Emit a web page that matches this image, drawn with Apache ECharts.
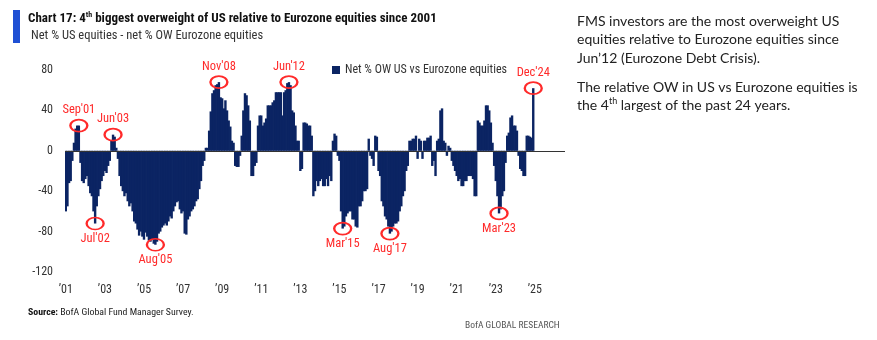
<!DOCTYPE html>
<html>
<head>
<meta charset="utf-8">
<script src="https://cdn.jsdelivr.net/npm/echarts@6/dist/echarts.min.js"></script>
<style>
html,body{margin:0;padding:0;background:#fff;}
#chart{width:877px;height:340px;}
</style>
</head>
<body>
<div id="chart"></div>
<script>
// ---- DATA ----
const startYear = 2001;
const axisMonths = 307; // Jan 2001 .. Jul 2026 (axis extent)
// Net % OW US minus net % OW Eurozone equities, monthly Jan 2001 .. Dec 2024
const netOW = [
  -60,-55,-32,-30,-10,8,22,25,25,-12,-30,-32,          // 2001
  -28,-25,-35,-42,-45,-60,-72,-55,-45,-38,-30,-25,     // 2002
  -20,-22,-15,-10,10,16,14,3,-8,-25,-35,-40,           // 2003
  -45,-42,-50,-55,-52,-60,-70,-72,-78,-84,-80,-85,     // 2004
  -88,-81,-85,-89,-90,-88,-92,-93,-90,-82,-80,-76,     // 2005
  -74,-72,-74,-70,-65,-67,-60,-55,-51,-50,-58,-62,     // 2006
  -60,-82,-83,-68,-65,-60,-58,-55,-50,-48,-38,-30,     // 2007
  -15,-10,3,3,20,39,57,60,65,66,68,53,                 // 2008
  52,42,50,40,30,24,10,8,-15,-16,-16,-5,               // 2009
  15,40,57,55,45,30,-25,-25,-15,-12,25,35,             // 2010
  35,25,28,32,45,45,45,48,50,58,58,58,                 // 2011
  58,35,58,60,67,68,65,40,38,25,10,10,                 // 2012
  -20,-18,28,28,27,25,25,15,-45,-40,-30,-35,           // 2013
  -30,-28,-35,-35,-28,-35,-25,-30,10,17,15,-5,         // 2014
  -10,-60,-77,-75,-65,-62,-60,-60,-68,-68,-75,-76,     // 2015
  -55,-55,-50,-40,-40,-38,12,-5,-8,-15,15,14,          // 2016
  -20,-25,-50,-55,-65,-68,-75,-82,-80,-75,-72,-72,     // 2017
  -70,-60,-55,-45,-40,-20,-15,10,10,12,12,15,          // 2018
  -8,12,10,-8,10,10,13,13,15,-15,-10,-25,              // 2019
  10,12,40,42,10,8,-5,5,3,-10,-15,-20,                 // 2020
  -25,-30,-28,-35,-35,-30,-30,-25,-25,-25,-28,-45,     // 2021
  -45,30,28,25,25,30,45,45,40,28,8,-15,                // 2022
  -30,-45,-62,-58,-45,-40,-12,15,18,33,35,25,          // 2023
  25,20,-5,-18,-20,-25,-25,15,15,14,13,62              // 2024
];
const annotations = [
  {name: "Sep'01", year: 2001, month: 9,  pos: 'top'},
  {name: "Jul'02", year: 2002, month: 7,  pos: 'bottom'},
  {name: "Jun'03", year: 2003, month: 6,  pos: 'top'},
  {name: "Aug'05", year: 2005, month: 8,  pos: 'bottom'},
  {name: "Nov'08", year: 2008, month: 11, pos: 'top'},
  {name: "Jun'12", year: 2012, month: 6,  pos: 'top'},
  {name: "Mar'15", year: 2015, month: 3,  pos: 'bottom'},
  {name: "Aug'17", year: 2017, month: 8,  pos: 'bottom'},
  {name: "Mar'23", year: 2023, month: 3,  pos: 'bottom'},
  {name: "Dec'24", year: 2024, month: 12, pos: 'top'}
];
const yTicks = {min: -120, max: 80, interval: 40};
const seriesName = 'Net % OW US vs Eurozone equities';
const subtitleText = 'Net % US equities - net % OW Eurozone equities';

// ---- BUILD ----
const categories = [];
for (let i = 0; i < axisMonths; i++) {
  const y = startYear + Math.floor(i / 12);
  const m = (i % 12) + 1;
  categories.push(y + '-' + (m < 10 ? '0' + m : m));
}
const idxOf = (y, m) => (y - startYear) * 12 + (m - 1);

const RED = '#ff2a2a';
const NAVY = '#0b2463';
const NARROW = "'Liberation Sans Narrow','Arial Narrow','Roboto Condensed','Liberation Sans',sans-serif";
const BODY = "Lato,'Open Sans',sans-serif";

const markData = annotations.map(a => {
  const i = idxOf(a.year, a.month);
  return {
    name: a.name,
    coord: [categories[i], netOW[i]],
    label: {position: a.pos}
  };
});

const chart = echarts.init(document.getElementById('chart'), null, {renderer: 'canvas'});
chart.setOption({
  backgroundColor: '#fff',
  animation: false,
  textStyle: {fontFamily: NARROW},
  grid: {left: 65, right: 312, top: 70, bottom: 68, containLabel: false},
  legend: {
    data: [seriesName],
    left: 332, top: 64,
    icon: 'rect', itemWidth: 8, itemHeight: 8, padding: 0,
    textStyle: {fontSize: 12, color: '#333', fontFamily: NARROW}
  },
  xAxis: {
    type: 'category',
    data: categories,
    boundaryGap: true,
    axisLine: {show: false, onZero: false},
    axisTick: {show: false},
    splitLine: {show: false},
    axisLabel: {
      interval: (i) => i % 24 === 0,
      formatter: (v) => '\u2019' + v.slice(2, 4),
      fontSize: 12, color: '#333', margin: 12, fontFamily: NARROW
    }
  },
  yAxis: {
    type: 'value',
    min: yTicks.min, max: yTicks.max, interval: yTicks.interval,
    axisLine: {show: false}, axisTick: {show: false},
    splitLine: {show: false},
    axisLabel: {fontSize: 12, color: '#333', margin: 12, fontFamily: NARROW}
  },
  series: [{
    name: seriesName,
    type: 'bar',
    data: netOW,
    barWidth: 2.4,
    barGap: '-100%',
    itemStyle: {color: NAVY},
    markLine: {
      silent: true, symbol: 'none',
      label: {show: false},
      lineStyle: {color: '#333', width: 1.2, type: 'solid'},
      data: [{yAxis: 0}]
    },
    markPoint: {
      silent: true,
      symbol: 'circle',
      symbolSize: [17, 12],
      itemStyle: {color: 'rgba(0,0,0,0)', borderColor: RED, borderWidth: 2},
      label: {
        show: true, color: RED, fontSize: 12.5, distance: 2,
        fontFamily: NARROW,
        formatter: (p) => p.name
      },
      data: markData
    }
  }],
  graphic: [
    {type: 'rect', left: 13, top: 10, shape: {width: 7, height: 33}, style: {fill: '#1f50d4'}},
    {type: 'text', left: 28, top: 11, style: {
      text: '{b|Chart 17: 4}{s|th}{b| biggest overweight of US relative to Eurozone equities since 2001}',
      rich: {
        b: {fontSize: 13, fontWeight: 'bold', fill: '#111', fontFamily: NARROW, lineHeight: 15},
        s: {fontSize: 8, fontWeight: 'bold', fill: '#111', fontFamily: NARROW, verticalAlign: 'top', lineHeight: 15}
      }
    }},
    {type: 'text', left: 31, top: 29, style: {
      text: subtitleText, fontSize: 12.5, fill: '#333', fontFamily: NARROW
    }},
    {type: 'text', left: 577, top: 12, style: {
      text: 'FMS investors are the most overweight US\nequities relative to Eurozone equities since\nJun\u201912 (Eurozone Debt Crisis).',
      fontSize: 14, lineHeight: 18.5, fill: '#222', fontFamily: BODY
    }},
    {type: 'text', left: 577, top: 80, style: {
      text: '{n|The relative OW in US vs Eurozone equities is}\n{n|the 4}{s|th}{n| largest of the past 24 years.}',
      rich: {
        n: {fontSize: 14, lineHeight: 18.5, fill: '#222', fontFamily: BODY},
        s: {fontSize: 9, lineHeight: 18.5, fill: '#222', fontFamily: BODY, verticalAlign: 'top'}
      }
    }},
    {type: 'text', left: 28, top: 308, style: {
      text: '{b|Source:}{n| BofA Global Fund Manager Survey.}',
      rich: {
        b: {fontSize: 9.8, fontWeight: 'bold', fill: '#111', fontFamily: NARROW},
        n: {fontSize: 9.8, fill: '#222', fontFamily: NARROW}
      }
    }},
    {type: 'text', left: 465, top: 321, style: {
      text: 'BofA GLOBAL RESEARCH', fontSize: 9.5, fill: '#555', fontFamily: NARROW
    }}
  ]
});
</script>
</body>
</html>
